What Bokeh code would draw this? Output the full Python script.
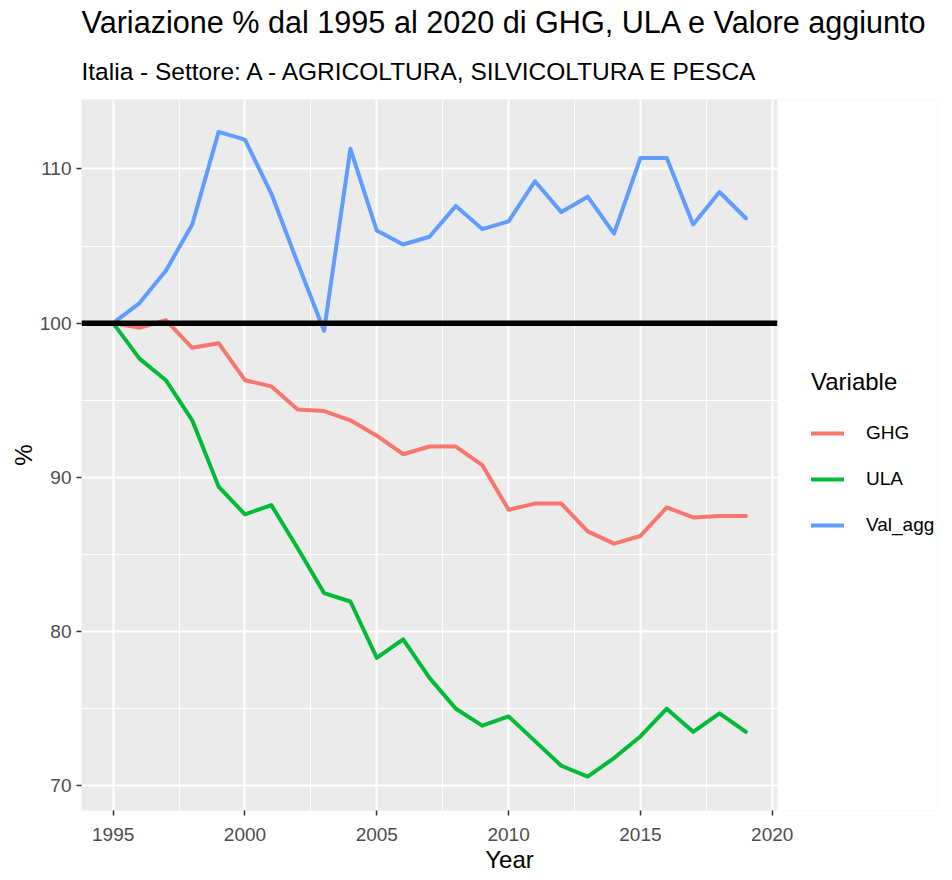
from bokeh.plotting import figure
from bokeh.models import FixedTicker, Legend, LegendItem, Title, BoxAnnotation
from bokeh.embed import file_html
from bokeh.resources import INLINE

years = list(range(1995, 2020))
ghg = [100, 99.7, 100.2, 98.4, 98.7, 96.3, 95.9, 94.4, 94.3, 93.7, 92.7, 91.5, 92.0,
       92.0, 90.8, 87.9, 88.3, 88.3, 86.5, 85.7, 86.2, 88.05, 87.4, 87.5, 87.5]
ula = [100, 97.7, 96.3, 93.7, 89.4, 87.6, 88.2, 85.4, 82.5, 81.95, 78.3, 79.5, 77.0,
       75.0, 73.9, 74.5, 72.9, 71.3, 70.6, 71.8, 73.2, 75.0, 73.5, 74.7, 73.5]
val_agg = [100, 101.3, 103.4, 106.4, 112.4, 111.9, 108.4, 103.9, 99.5, 111.3, 106.0, 105.1, 105.6,
           107.6, 106.1, 106.6, 109.2, 107.2, 108.2, 105.8, 110.7, 110.7, 106.4, 108.5, 106.8]
series_names = ["GHG", "ULA", "Val_agg"]
series_colors = ["#F8766D", "#00BA38", "#619CFF"]
x_ticks = [1995, 2000, 2005, 2010, 2015, 2020]
x_minor = [1997.5, 2002.5, 2007.5, 2012.5, 2017.5]
y_ticks = [70, 80, 90, 100, 110]
y_minor = [65, 75, 85, 95, 105, 115]
baseline = 100

title_text = "Variazione % dal 1995 al 2020 di GHG, ULA e Valore aggiunto"
subtitle_text = "Italia - Settore: A - AGRICOLTURA, SILVICOLTURA E PESCA"
FONT = "Liberation Sans"

# ggplot-like panel: data range expanded by 5%
x0, x1 = 1993.8, 2020.2
y0, y1 = 68.4, 114.5
panel_px = 696                     # width of the grey panel
frame_w = 856                      # frame also holds the legend area on the right
x_end = x0 + (x1 - x0) * frame_w / panel_px

p = figure(frame_width=frame_w, frame_height=711, x_range=(x0, x_end), y_range=(y0, y1),
           output_backend="svg", toolbar_location=None,
           min_border_left=81, min_border_right=5, min_border_top=98, min_border_bottom=65,
           background_fill_color="#EBEBEB", border_fill_color="white", outline_line_color=None)

xt = FixedTicker(ticks=x_ticks, minor_ticks=x_minor)
yt = FixedTicker(ticks=y_ticks, minor_ticks=y_minor)
p.xaxis.ticker = xt
p.yaxis.ticker = yt
p.xgrid.ticker = xt
p.ygrid.ticker = yt

for g in (p.xgrid, p.ygrid):
    g.grid_line_color = "white"
    g.grid_line_width = 2
    g.minor_grid_line_color = "white"
    g.minor_grid_line_width = 1

for ax in (p.xaxis, p.yaxis):
    ax.axis_line_color = None
    ax.major_tick_line_color = "#333333"
    ax.major_tick_line_width = 1.5
    ax.major_tick_out = 5
    ax.major_tick_in = 0
    ax.minor_tick_line_color = None
    ax.major_label_text_font = FONT
    ax.major_label_text_font_size = "19px"
    ax.major_label_text_color = "#4d4d4d"
    ax.axis_label_text_font = FONT
    ax.axis_label_text_font_size = "24px"
    ax.axis_label_text_font_style = "normal"
    ax.axis_label_text_color = "black"
    ax.major_label_standoff = 5

p.xaxis.major_label_standoff = 12
p.xaxis.axis_label = "Year"
p.yaxis.axis_label = "%"
p.xaxis.axis_label_standoff = 2
p.yaxis.axis_label_standoff = 0

renderers = []
for vals, name, col in zip([ghg, ula, val_agg], series_names, series_colors):
    r = p.line(years, vals, line_color=col, line_width=4, line_join="round", line_cap="round")
    renderers.append(r)

# horizontal reference line at 100 across the whole panel
p.segment(x0=[x0], y0=[baseline], x1=[x1], y1=[baseline], line_color="black", line_width=5.5)

# white area right of the grey panel, where the legend sits
p.add_layout(BoxAnnotation(left=x1, right=x_end + 5, bottom=y0 - 5, top=y1 + 5,
                           fill_color="white", fill_alpha=1.0, line_color=None))

legend = Legend(items=[LegendItem(label=n, renderers=[r]) for n, r in zip(series_names, renderers)],
                title="Variable", location=(730, 265), orientation="vertical",
                title_text_font=FONT, title_text_font_size="24px", title_text_font_style="normal",
                title_text_color="black", title_standoff=17,
                label_text_font=FONT, label_text_font_size="19px", label_text_color="black",
                glyph_width=33, glyph_height=40, label_height=40, spacing=6, label_standoff=22,
                padding=8, margin=0, border_line_color=None, background_fill_alpha=0)
p.add_layout(legend, "center")

p.add_layout(Title(text=subtitle_text, text_font=FONT, text_font_size="24.5px",
                   text_font_style="normal", text_color="black", align="left", offset=0,
                   standoff=29), "above")
p.add_layout(Title(text=title_text, text_font=FONT, text_font_size="30.6px",
                   text_font_style="normal", text_color="black", align="left", offset=0,
                   standoff=5), "above")

open("out.html", "w").write(file_html(p, INLINE))
